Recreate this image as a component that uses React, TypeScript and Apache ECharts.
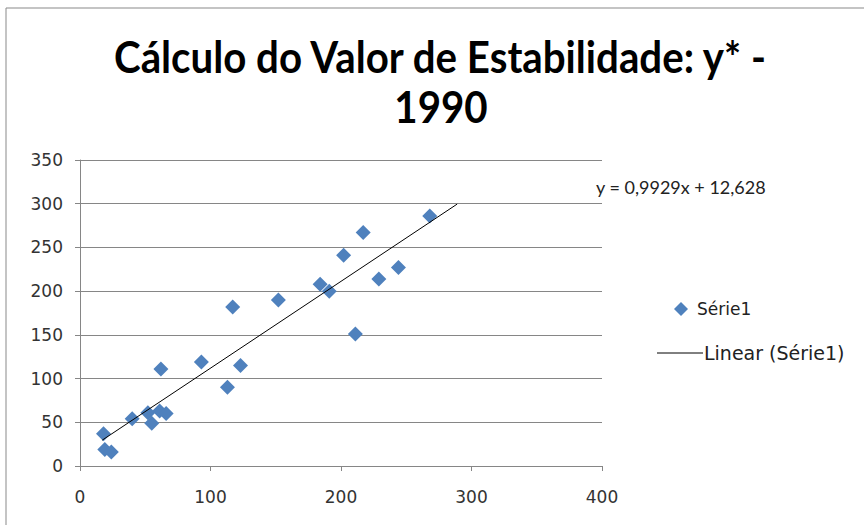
import React, { useEffect, useRef } from "react";
import * as echarts from "echarts";

const titleLine1 = "Cálculo do Valor de Estabilidade: y* -";
const titleLine2 = "1990";
const seriesName = "Série1";
const trendName = "Linear (Série1)";
const equationText = "y = 0,9929x + 12,628";

const xValues = [18, 19, 24, 40, 52, 55, 61, 66, 62, 93, 113, 123, 117, 152, 184, 191, 202, 217, 211, 229, 244, 268];
const yValues = [37, 19, 16, 54, 61, 49, 63, 60, 111, 119, 90, 115, 182, 190, 208, 200, 241, 267, 151, 214, 227, 286];

const slope = 0.9929;
const intercept = 12.628;
const trendStart = 17;
const trendEnd = 289;

const xTicks = [0, 100, 200, 300, 400];
const yTicks = [0, 50, 100, 150, 200, 250, 300, 350];

export default function App() {
  const ref = useRef<HTMLDivElement>(null);
  useEffect(() => {
    if (!ref.current) return;
    const chart = echarts.init(ref.current, null, { renderer: "svg" });
    const points = xValues.map((x, i) => [x, yValues[i]]);
    const trend = [
      [trendStart, slope * trendStart + intercept],
      [trendEnd, slope * trendEnd + intercept],
    ];
    const titleFont = "Lato, 'Open Sans', sans-serif";
    const labelFont = "'DejaVu Sans', sans-serif";
    chart.setOption({
      animation: false,
      backgroundColor: "#ffffff",
      grid: { left: 80, right: 262, top: 160, bottom: 59, containLabel: false },
      xAxis: {
        type: "value",
        min: xTicks[0],
        max: xTicks[xTicks.length - 1],
        interval: 100,
        axisLine: { show: true, lineStyle: { color: "#868686", width: 1 } },
        axisTick: { show: true, length: 5, lineStyle: { color: "#868686" } },
        splitLine: { show: false },
        axisLabel: { color: "#333", fontSize: 17, fontFamily: labelFont, margin: 22 },
      },
      yAxis: {
        type: "value",
        min: yTicks[0],
        max: yTicks[yTicks.length - 1],
        interval: 50,
        axisLine: { show: true, lineStyle: { color: "#868686", width: 1 } },
        axisTick: { show: true, length: 5, lineStyle: { color: "#868686" } },
        splitLine: { show: true, lineStyle: { color: "#868686", width: 1 } },
        axisLabel: { color: "#333", fontSize: 17, fontFamily: labelFont, margin: 17 },
      },
      series: [
        {
          name: seriesName,
          type: "scatter",
          data: points,
          symbol: "diamond",
          symbolSize: 15,
          itemStyle: { color: "#4F81BD", opacity: 1 },
          z: 3,
        },
        {
          name: trendName,
          type: "line",
          data: trend,
          showSymbol: false,
          symbol: "none",
          lineStyle: { color: "#000", width: 1 },
          z: 4,
        },
      ],
      graphic: [
        {
          type: "rect",
          shape: { x: 6, y: 8, width: 900, height: 560 },
          style: { fill: "none", stroke: "#898989", lineWidth: 1 },
          silent: true,
        },
        {
          type: "text",
          x: 440,
          y: 56,
          scaleX: 0.915,
          style: {
            text: titleLine1,
            fontSize: 44,
            fontWeight: "bold",
            fontFamily: titleFont,
            fill: "#000",
            textAlign: "center",
            textVerticalAlign: "middle",
          },
        },
        {
          type: "text",
          x: 441,
          y: 106,
          scaleX: 0.915,
          style: {
            text: titleLine2,
            fontSize: 44,
            fontWeight: "bold",
            fontFamily: titleFont,
            fill: "#000",
            textAlign: "center",
            textVerticalAlign: "middle",
          },
        },
        {
          type: "text",
          x: 596,
          y: 187,
          style: {
            text: equationText,
            fontSize: 18,
            fontFamily: titleFont,
            fill: "#222",
            textVerticalAlign: "middle",
          },
        },
        {
          type: "polygon",
          shape: { points: [[681, 302], [688, 309], [681, 316], [674, 309]] },
          style: { fill: "#4F81BD" },
        },
        {
          type: "text",
          x: 697,
          y: 309,
          style: {
            text: seriesName,
            fontSize: 17,
            fontFamily: labelFont,
            fill: "#222",
            textVerticalAlign: "middle",
          },
        },
        {
          type: "line",
          shape: { x1: 657, y1: 353, x2: 703, y2: 353 },
          style: { stroke: "#000", lineWidth: 1 },
        },
        {
          type: "text",
          x: 704,
          y: 353,
          style: {
            text: trendName,
            fontSize: 19,
            fontFamily: labelFont,
            fill: "#222",
            textVerticalAlign: "middle",
          },
        },
      ],
    });
    return () => chart.dispose();
  }, []);
  return <div ref={ref} style={{ width: 864, height: 525, position: "absolute", left: 0, top: 0 }} />;
}
